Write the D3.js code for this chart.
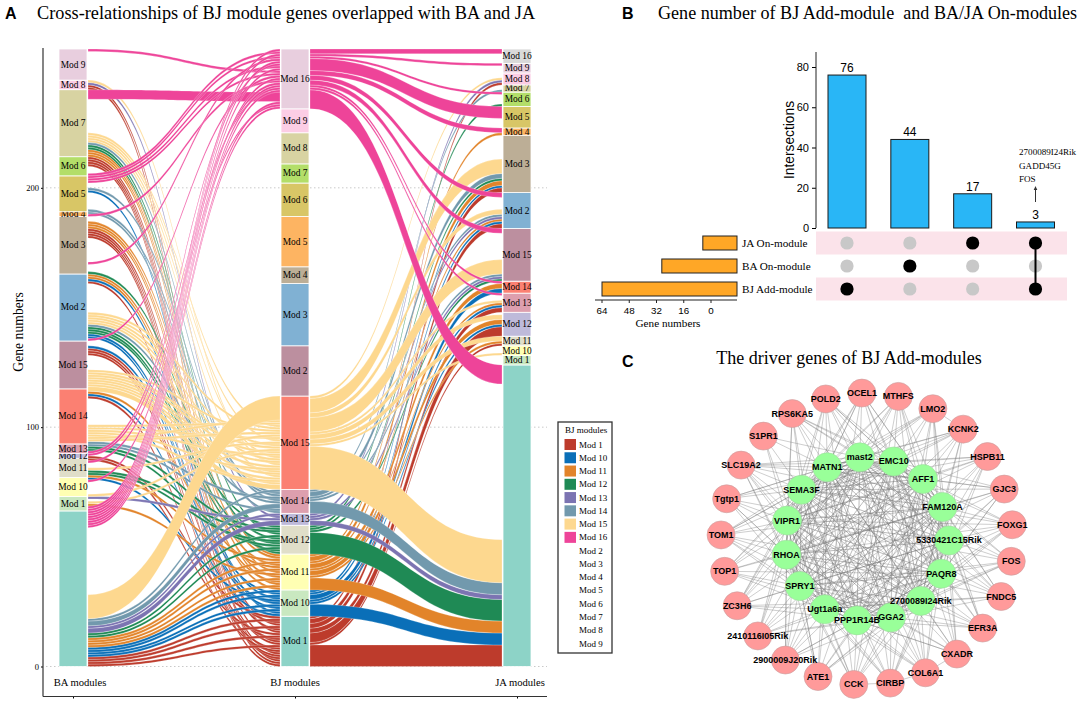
<!DOCTYPE html>
<html><head><meta charset="utf-8">
<script src="https://cdn.jsdelivr.net/npm/d3@7"></script>
<style>html,body{margin:0;padding:0;background:#fff}svg{display:block}
text{fill:#000}</style></head><body><svg id="c" width="1084" height="704"></svg>
<script>
// ---------- Panel A data ----------
const palette=["#8dd3c7","#c9e8c0","#ffffb3","#e0dec9","#bebada","#dd9fae","#fb8072","#bc8f9f","#80b1d3","#bcae96","#fdb462","#d8c666","#b3de69","#d8d3a2","#fccde5","#e8cede","#d9d9d9"];
const baNames=["","Mod 1","Mod 10","Mod 11","Mod 12","Mod 13","Mod 14","Mod 15","Mod 2","Mod 3","Mod 4","Mod 5","Mod 6","Mod 7","Mod 8","Mod 9"];
const baSizes=[65,6,8,8,2,4,23,20,28,24,2,15,8,28,4,13];
const bjNames=["Mod 1","Mod 10","Mod 11","Mod 12","Mod 13","Mod 14","Mod 15","Mod 2","Mod 3","Mod 4","Mod 5","Mod 6","Mod 7","Mod 8","Mod 9","Mod 16"];
const bjSizes=[21,11,15,12,5,10,39,21,26,7,21,14,8,13,10,25];
const jaNames=["","Mod 1","Mod 10","Mod 11","Mod 12","Mod 13","Mod 14","Mod 15","Mod 2","Mod 3","Mod 4","Mod 5","Mod 6","Mod 7","Mod 8","Mod 9","Mod 16"];
const jaSizes=[126,4,4,4,10,8,5,22,15,24,3,9,6,3,5,4,6];
const flowModules=["Mod 1","Mod 10","Mod 11","Mod 12","Mod 13","Mod 14","Mod 15","Mod 16"];
const flowColors=["#bd3b2c","#0a6fb8","#e2842a","#1f8a55","#7c74b2","#7299ad","#fdd88f","#ee4499"];
// stacks of genes on the BA axis, bottom to top
const baGroups=[67,3,8,8,4,6,16,18,7,23,9,10,10,4,5,8,3,15,17,17];
// per BJ module, bottom to top: which BA stack each gene comes from
const fromBA=[
 [12,17,19,12,10,17,7,8,0,12,17,8,0,4,19,12,0,17,8,0,4],
 [7,15,0,9,0,8,3,10,0,9,0],
 [12,0,17,10,0,12,1,17,0,7,10,0,3,12,17],
 [17,9,0,5,9,3,10,0,17,3,5,9],
 [0,0,2,19,0],
 [13,5,0,0,9,17,5,13,15,0],
 [7,7,9,6,7,17,7,9,6,7,19,7,9,17,6,7,1,7,9,3,17,6,2,5,7,9,17,6,5,0,0,0,0,0,0,0,0,0,0],
 [0,3,0,18,18,18,18,0,4,0,2,12,0,8,15,19,0,15,4,0,10,15,0,15,0]
];
// per BJ module: gene counts to each JA stratum
const toJA=[
 [9,0,0,1,4,2,0,0,2,2,0,0,0,0,1,0,0],
 [5,0,0,0,1,1,2,0,1,1,0,0,0,0,0,0,0],
 [5,0,0,1,2,1,2,0,1,2,1,0,0,0,0,0,0],
 [9,0,0,0,0,0,0,1,0,1,0,0,1,0,0,0,0],
 [2,0,0,0,0,0,0,1,1,0,0,0,0,0,1,0,0],
 [5,0,0,0,0,0,0,1,1,2,0,0,0,1,0,0,0],
 [18,0,1,2,2,1,0,6,2,6,0,0,0,0,1,0,0],
 [8,0,0,0,0,1,1,2,2,0,2,5,1,0,0,1,2]
];
const legendNames=["Mod 1","Mod 10","Mod 11","Mod 12","Mod 13","Mod 14","Mod 15","Mod 16","Mod 2","Mod 3","Mod 4","Mod 5","Mod 6","Mod 7","Mod 8","Mod 9"];
const yTicksA=[0,100,200];
const axisNames=["BA modules","BJ modules","JA modules"];
// ---------- Panel B data ----------
const interCounts=[76,44,17,3];
const setNames=["JA On-module","BA On-module","BJ Add-module"];
const setSizes=[20,44,79];
const setTickLabels=[64,48,32,16,0];
const memberships=[[2],[1],[0],[0,2]];
const interTicks=[0,20,40,60,80];
const annotated=["2700089I24Rik","GADD45G","FOS"];
// ---------- Panel C data ----------
const outerGenes=["OCEL1","MTHFS","LMO2","KCNK2","HSPB11","GJC3","FOXG1","FOS","FNDC5","EFR3A","CXADR","COL6A1","CIRBP","CCK","ATE1","2900009J20Rik","2410116I05Rik","ZC3H6","TOP1","TOM1","Tgtp1","SLC19A2","S1PR1","RPS6KA5","POLD2"];
const innerGenes=["mast2","EMC10","AFF1","FAM120A","5330421C15Rik","PAQR8","2700089I24Rik","GGA2","PPP1R14B","Ugt1a6a","SPRY1","RHOA","VIPR1","SEMA3F","MATN1"];
const outerLinks=[
 [0,1,2,3,6,9,11,12,13,14,5],[0,1,2,3,5,8,10,11,13,14,6],[1,2,3,4,5,7,9,12,14,0,13],[1,2,3,4,6,8,10,13,0,12,14],[1,2,3,4,5,7,9,11,12,14,13],
 [2,3,4,5,6,8,10,11,13,1,14],[2,3,4,5,6,7,9,11,13,0,12],[3,4,5,6,7,8,10,12,14,1],[3,4,5,6,7,9,11,13,14,2,0],[4,5,6,7,8,10,12,13,2,3,0],
 [4,5,6,7,8,9,11,1,3,13,14],[5,6,7,8,9,10,12,3,1,0,14],[5,6,7,8,9,10,11,0,2,4,13],[6,7,8,9,10,11,2,14,4,1,12],[6,7,8,9,10,11,12,1,3,5,14],
 [7,8,9,10,11,12,3,5,13,1,0],[7,8,9,10,11,12,13,0,5,2,3],[8,9,10,11,12,13,14,2,4,6,0],[9,10,11,12,13,14,3,5,7,1],[9,10,11,12,13,14,0,1,5,3,7],
 [10,11,12,13,14,0,1,4,6,8],[10,11,12,13,14,0,1,2,6,3,7,8],[13,12,0,9,14],[12,13,14,0,1,2,5,9,11,3,7],[13,14,0,1,2,3,6,10,12,4,8]
];
const extraOuter=[["CCK","CIRBP"],["CIRBP","COL6A1"],["COL6A1","CXADR"],["LMO2","KCNK2"]];

const svg=d3.select("#c");
const SERIF="'Liberation Serif','Times New Roman',serif", SANS="'Liberation Sans',Arial,sans-serif";
function txt(g,x,y,s,size,font,anchor,extra){const t=g.append("text").attr("x",x).attr("y",y).text(s).attr("font-size",size).attr("font-family",font).attr("text-anchor",anchor||"start").attr("dominant-baseline","central");if(extra)extra(t);return t;}

// panel letters + titles
[["A",5,13],["B",622,13],["C",622,361]].forEach(d=>txt(svg,d[1],d[2],d[0],16,SANS,"start",t=>t.attr("font-weight","bold")));
txt(svg,37,13,"Cross-relationships of BJ module genes overlapped with BA and JA",18.3,SERIF);
txt(svg,658,13,"Gene number of BJ Add-module  and BA/JA On-modules",18.1,SERIF,"start",t=>t.attr("xml:space","preserve"));
txt(svg,849,358,"The driver genes of BJ Add-modules",18,SERIF,"middle");

// ---------- Panel A ----------
const A=svg.append("g");
const y=d3.scaleLinear().domain([0,258]).range([666.5,49]);
const xAx=d3.scalePoint().domain(axisNames).range([73,517]);
const halfW=14, gapX=1;
const xBA=xAx("BA modules"),xBJ=xAx("BJ modules"),xJA=xAx("JA modules");

// grid
yTicksA.forEach(v=>A.append("line").attr("x1",46).attr("x2",547).attr("y1",y(v)).attr("y2",y(v)).attr("stroke","#bbb").attr("stroke-width",0.8).attr("stroke-dasharray","1.5 2.5"));

// genes
const cum=a=>{let s=0;return a.map(v=>{const r=s;s+=v;return r;});};
const baStart=cum(baGroups), bjStart=cum(bjSizes), jaStart=cum(jaSizes);
const genes=[];
fromBA.forEach((seq,m)=>{
  const ja=[];toJA[m].forEach((n,j)=>{for(let i=0;i<n;i++)ja.push(j);});
  seq.forEach((b,k)=>genes.push({m,k,ba:b,ja:ja[k]}));
});
// BJ positions: module stratum, scaled to fill
const bjIndex=[0,1,2,3,4,5,6,15];
genes.forEach(g=>{
  const idx=bjIndex[g.m],n=fromBA[g.m].length,sz=bjSizes[idx];
  g.bj0=bjStart[idx]+g.k*sz/n; g.bj1=g.bj0+sz/n;
});
function stackEnd(groupKey,starts,sizes,out){
  starts.forEach((st,i)=>{
    const members=genes.filter(g=>g[groupKey]===i);
    let low=st;
    members.filter(g=>g.m<7).forEach(g=>{g[out+"0"]=low;g[out+"1"]=low+1;low+=1;});
    const pk=members.filter(g=>g.m===7);
    let high=st+sizes[i]-pk.length;
    pk.forEach(g=>{g[out+"0"]=high;g[out+"1"]=high+1;high+=1;});
  });
}
stackEnd("ba",baStart,baGroups,"a");
stackEnd("ja",jaStart,jaSizes,"c");
function ribbon(x0,x1,a0,a1,b0,b1){
  const p=d3.path(),c=(x0+x1)/2;
  p.moveTo(x0,y(a0));p.bezierCurveTo(c,y(a0),c,y(b0),x1,y(b0));
  p.lineTo(x1,y(b1));p.bezierCurveTo(c,y(b1),c,y(a1),x0,y(a1));p.closePath();
  return p.toString();
}
function runs(list,key){
  const out=[];
  list.forEach(g=>{
    const last=out[out.length-1];
    if(last&&last[0][key]===g[key])last.push(g);else out.push([g]);
  });
  return out;
}
const fl=A.append("g");
d3.range(8).forEach(m=>{
  const list=genes.filter(g=>g.m===m);
  const paint=d=>fl.append("path").attr("d",d).attr("fill",flowColors[m]).attr("stroke","#fff").attr("stroke-width",0.35).attr("stroke-opacity",0.7);
  runs(list,"ba").forEach(r=>{const f=r[0],l=r[r.length-1];
    paint(ribbon(xBA+halfW+gapX,xBJ-halfW-gapX,f.a0,l.a1,f.bj0,l.bj1));});
  runs(list,"ja").forEach(r=>{const f=r[0],l=r[r.length-1];
    paint(ribbon(xBJ+halfW+gapX,xJA-halfW-gapX,f.bj0,l.bj1,f.c0,l.c1));});
});
// strata
function strata(cx,sizes,names){
  const st=cum(sizes);
  sizes.forEach((s,i)=>{
    A.append("rect").attr("x",cx-halfW).attr("width",halfW*2).attr("y",y(st[i]+s)).attr("height",y(st[i])-y(st[i]+s))
     .attr("fill",palette[i]).attr("stroke","#fff").attr("stroke-width",0.8);
    if(names[i])txt(A,cx,(y(st[i])+y(st[i]+s))/2,names[i],9.4,SERIF,"middle");
  });
}
strata(xBA,baSizes,baNames);strata(xBJ,bjSizes,bjNames);strata(xJA,jaSizes,jaNames);
// axes
const yAxisG=A.append("g").attr("transform","translate(43,0)").call(d3.axisLeft(y).tickValues(yTicksA).tickSize(2).tickPadding(2));
yAxisG.select(".domain").remove();
yAxisG.selectAll("text").attr("font-family",SERIF).attr("font-size",8.5);
A.append("line").attr("x1",43).attr("x2",43).attr("y1",48).attr("y2",696.5).attr("stroke","#333").attr("stroke-width",1.2);
const xAxisG=A.append("g").attr("transform","translate(0,696.5)").call(d3.axisBottom(xAx).tickSize(2).tickFormat(""));
xAxisG.select(".domain").remove();
A.append("line").attr("x1",43).attr("x2",547).attr("y1",696.5).attr("y2",696.5).attr("stroke","#333").attr("stroke-width",1.2);
const axisNudge=[7,0,3];
axisNames.forEach((n,i)=>txt(A,xAx(n)+axisNudge[i],682,n,10.6,SERIF,"middle"));
txt(A,0,0,"Gene numbers",13.7,SERIF,"middle",t=>t.attr("transform","translate(18,332) rotate(-90)"));
// legend
const L=svg.append("g");
L.append("rect").attr("x",558).attr("y",422).attr("width",54).attr("height",231).attr("fill","#fff").attr("stroke","#333").attr("stroke-width",1.3);
txt(L,565,429.5,"BJ modules",9,SERIF);
const legY=d3.scalePoint().domain(legendNames).range([444.5,643.5]);
legendNames.forEach(n=>{
  const i=flowModules.indexOf(n);
  if(i>=0)L.append("rect").attr("x",564.5).attr("y",legY(n)-5.5).attr("width",11.5).attr("height",11).attr("fill",flowColors[i]);
  txt(L,579,legY(n),n,9,SERIF);
});

// ---------- Panel B ----------
const B=svg.append("g");
const by=d3.scaleLinear().domain([0,80]).range([228,67]);
const cols=interCounts.map((_,i)=>i);
const bx=d3.scalePoint().domain(cols).range([847,1035.5]);
const rows=d3.scalePoint().domain(setNames).range([243,289]);
[0,2].forEach(r=>B.append("rect").attr("x",816).attr("y",rows(setNames[r])-11.5).attr("width",251).attr("height",23).attr("fill","#fbe3ea"));
const byAxis=B.append("g").attr("transform","translate(816,0)").call(d3.axisLeft(by).tickValues(interTicks).tickSize(4).tickPadding(3));
byAxis.select(".domain").remove();
byAxis.selectAll("text").attr("font-family",SANS).attr("font-size",11);
B.append("line").attr("x1",816).attr("x2",816).attr("y1",52).attr("y2",228).attr("stroke","#222").attr("stroke-width",1);
txt(B,0,0,"Intersections",13.8,SANS,"middle",t=>t.attr("transform","translate(789,140) rotate(-90)"));
interCounts.forEach((v,i)=>{
  B.append("rect").attr("x",bx(i)-19).attr("width",38).attr("y",by(v)).attr("height",by(0)-by(v)).attr("fill","#29b6f6").attr("stroke","#1a1a1a").attr("stroke-width",1);
  txt(B,bx(i),by(v)-7,v,12,SANS,"middle");
});
annotated.forEach((s,i)=>txt(B,1019,152+i*13.5,s,9.1,SERIF));
B.append("line").attr("x1",bx(3)).attr("x2",bx(3)).attr("y1",202).attr("y2",189).attr("stroke","#333").attr("stroke-width",1);
B.append("path").attr("d",d3.line()([[bx(3)-1.8,190],[bx(3),186],[bx(3)+1.8,190]])).attr("fill","#333");
cols.forEach(c=>{
  setNames.forEach((s,r)=>{
    const on=memberships[c].includes(r);
    B.append("circle").attr("cx",bx(c)).attr("cy",rows(s)).attr("r",6.6).attr("fill",on?"#000":"#c8c8c8");
  });
  if(memberships[c].length>1){
    B.append("line").attr("x1",bx(c)).attr("x2",bx(c)).attr("y1",rows(setNames[memberships[c][0]])).attr("y2",rows(setNames[memberships[c][1]])).attr("stroke","#000").attr("stroke-width",2);
  }
});
const sx=d3.scaleLinear().domain([0,79]).range([737,602]);
setNames.forEach((s,i)=>{
  B.append("rect").attr("x",sx(setSizes[i])).attr("width",sx(0)-sx(setSizes[i])).attr("y",rows(s)-7).attr("height",14).attr("fill","#ffa726").attr("stroke","#222").attr("stroke-width",1);
  txt(B,742,rows(s),s,11.2,SERIF);
});
const tickX=d3.scaleLinear().domain([0,64]).range([711,602]);
B.append("line").attr("x1",595).attr("x2",737).attr("y1",300).attr("y2",300).attr("stroke","#222").attr("stroke-width",1);
setTickLabels.forEach(v=>{
  B.append("line").attr("x1",tickX(v)).attr("x2",tickX(v)).attr("y1",300).attr("y2",303).attr("stroke","#222");
  txt(B,tickX(v),310,v,9.8,SANS,"middle");
});
txt(B,668,322.5,"Gene numbers",11.2,SERIF,"middle");

// ---------- Panel C ----------
const C=svg.append("g");
const cx=867,cy=539;
const outerAng=d3.scaleLinear().domain([0,outerGenes.length]).range([-2,358]);
const innerAng=d3.scaleLinear().domain([0,innerGenes.length]).range([-5,355]);
const polar=(deg,r)=>{const t=deg*Math.PI/180;return [cx+r*Math.sin(t),cy-r*Math.cos(t)];};
const op=outerGenes.map((_,i)=>polar(outerAng(i),146));
const ip=innerGenes.map((_,i)=>polar(innerAng(i),82));
const link=(a,b,w,o)=>C.append("line").attr("x1",a[0]).attr("y1",a[1]).attr("x2",b[0]).attr("y2",b[1]).attr("stroke","#777").attr("stroke-width",w).attr("stroke-opacity",o);
outerLinks.forEach((ls,i)=>ls.forEach(j=>link(op[i],ip[j],0.6,0.6)));
extraOuter.forEach(e=>link(op[outerGenes.indexOf(e[0])],op[outerGenes.indexOf(e[1])],0.6,0.6));
ip.forEach((a,i)=>ip.forEach((b,j)=>{if(j>i)link(a,b,0.55,0.9);}));
op.forEach((p,i)=>{C.append("circle").attr("cx",p[0]).attr("cy",p[1]).attr("r",14).attr("fill","#ff9a9a").attr("stroke","#c9a0a0").attr("stroke-width",0.6);});
ip.forEach((p,i)=>{C.append("circle").attr("cx",p[0]).attr("cy",p[1]).attr("r",14.5).attr("fill","#99ff99").attr("stroke","#9fdc9f").attr("stroke-width",0.6);});
const bold=t=>t.attr("font-weight","bold");
op.forEach((p,i)=>txt(C,p[0],p[1],outerGenes[i],9,SANS,"middle",bold));
ip.forEach((p,i)=>txt(C,p[0],p[1],innerGenes[i],9,SANS,"middle",bold));
</script></body></html>
